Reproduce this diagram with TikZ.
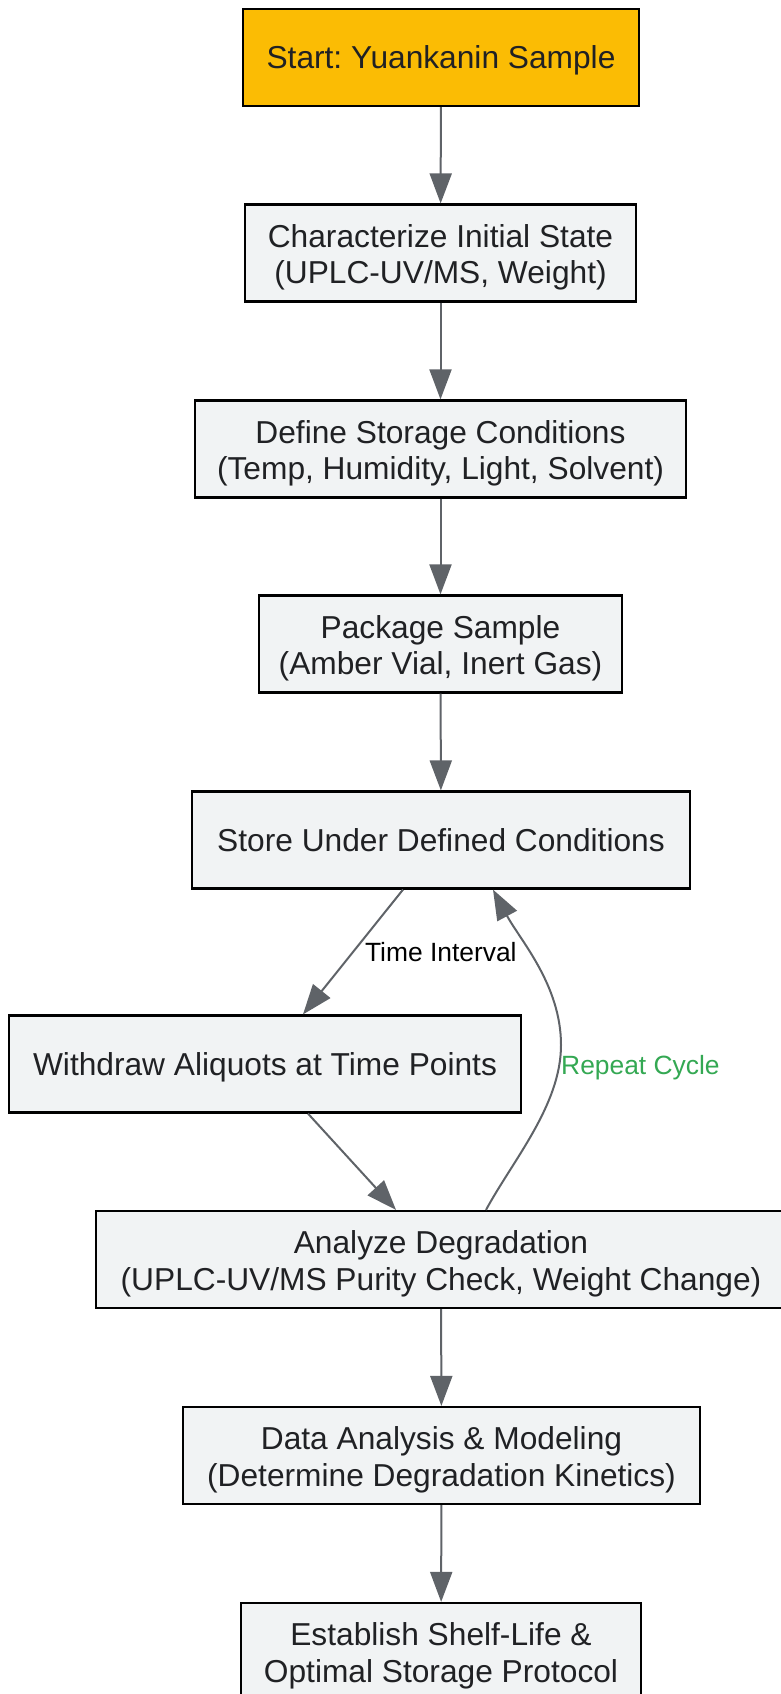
\documentclass[tikz,border=0pt]{standalone}
\usepackage{fontspec}
\setmainfont{Liberation Sans}
\usetikzlibrary{arrows.meta,calc}
\definecolor{startfill}{HTML}{FBBC04}
\definecolor{boxfill}{HTML}{F1F3F4}
\definecolor{txtcol}{HTML}{202124}
\definecolor{edgecol}{HTML}{5F6368}
\definecolor{cyclegreen}{HTML}{34A853}
\newcommand\osA{\rule[-8pt]{0pt}{39pt}}
\newcommand\tsA{\rule{0pt}{33pt}}
\newcommand\bsA{\rule[-8pt]{0pt}{0pt}}
\frenchspacing
\begin{document}
\begin{tikzpicture}[x=1pt,y=-1pt,
  box/.style={draw=black, line width=2.2pt, fill=boxfill, text=txtcol, minimum height=97pt, inner sep=0pt, align=center, font=\fontsize{31.7}{36.7}\selectfont},
  arr/.style={draw=edgecol, line width=2pt, -{Triangle[width=22pt,length=30pt,fill=edgecol]}},
  lbl/.style={font=\fontsize{26.4}{30}\selectfont, inner sep=0pt}]
\useasboundingbox (0,0) rectangle (781,1694);
\node[box, fill=startfill, minimum width=396pt] (start) at (441,57.5) {\osA Start: Yuankanin Sample};
\node[box, minimum width=391pt] (char) at (440.5,253) {\tsA Characterize Initial State\\(UPLC-UV/MS, Weight)\bsA};
\node[box, minimum width=491pt] (define) at (440.5,449) {\tsA Define Storage Conditions\\(Temp, Humidity, Light, Solvent)\bsA};
\node[box, minimum width=363pt] (package) at (440.5,644) {\tsA Package Sample\\(Amber Vial, Inert Gas)\bsA};
\node[box, minimum width=498pt] (store) at (441,840) {\osA Store Under Defined Conditions};
\node[box, minimum width=512pt] (withdraw) at (265,1064) {\osA Withdraw Aliquots at Time Points};
\node[box, minimum width=690pt] (analyze) at (441,1259.5) {\tsA Analyze Degradation\\(UPLC-UV/MS Purity Check, Weight Change)\bsA};
\node[box, minimum width=517pt] (data) at (441.5,1455.5) {\tsA Data Analysis \& Modeling\\(Determine Degradation Kinetics)\bsA};
\node[box, minimum width=400pt] (final) at (441,1651.5) {\tsA Establish Shelf-Life \&\\Optimal Storage Protocol\bsA};

\draw[arr] (start) -- (char);
\draw[arr] (char) -- (define);
\draw[arr] (define) -- (package);
\draw[arr] (package) -- (store);
\draw[arr] ([xshift=-38pt]store.south) -- node[lbl, anchor=west, xshift=11pt] (lbltime) {Time Interval} ([xshift=38pt]withdraw.north);
\draw[arr] ([xshift=43pt]withdraw.south) -- ([xshift=-45pt]analyze.north);
\draw[arr] ([xshift=45pt]analyze.north) .. controls (513,1160) and (561,1105) .. (561,1045) .. controls (561,985) and (520,940) .. ([xshift=52pt]store.south);
\node[lbl, text=cyclegreen, anchor=west] (lblrepeat) at (561,1068) {Repeat Cycle};
\draw[arr] (analyze) -- (data);
\draw[arr] (data) -- (final);
\end{tikzpicture}
\end{document}
